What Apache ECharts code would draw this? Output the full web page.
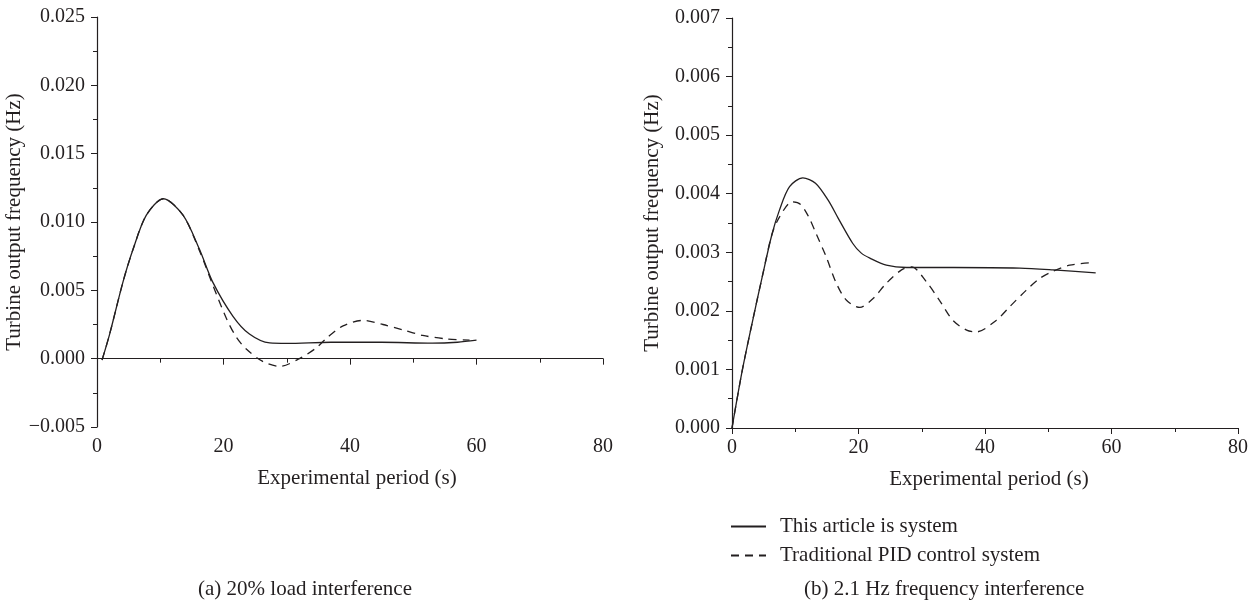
<!DOCTYPE html>
<html>
<head>
<meta charset="utf-8">
<script src="https://cdn.jsdelivr.net/npm/echarts@6/dist/echarts.min.js"></script>
<style>
  html, body { margin: 0; padding: 0; background: #fff; }
  #main { width: 1258px; height: 605px; }
</style>
</head>
<body>
<div id="main"></div>
<script>
// (a) 20% load interference
var leftSysT = [0.8, 2.0, 4.1, 5.7, 7.8, 10.5, 13.6, 16.2, 18.3, 21.5, 24.1, 27.3, 30, 37, 45, 53, 57, 60];
var leftSysV = [-0.0001, 0.0018, 0.0056, 0.0080, 0.0105, 0.0117, 0.0105, 0.0080, 0.0056, 0.0031, 0.0018, 0.00115, 0.00112, 0.0012, 0.0012, 0.00113, 0.0012, 0.00135];
var leftPidT = [0.8, 2.0, 4.1, 5.7, 7.8, 10.5, 13.6, 16.2, 18.3, 20.5, 22.0, 23.6, 26.2, 28.9, 32.0, 34.7, 36.3, 38.9, 42.0, 45.2, 48.4, 51.5, 55.2, 58.9];
var leftPidV = [-0.0001, 0.0018, 0.0056, 0.0080, 0.0105, 0.0117, 0.0105, 0.0079, 0.0054, 0.0029, 0.0016, 0.0007, -0.0002, -0.00056, 0.0, 0.0008, 0.0015, 0.0024, 0.0028, 0.0025, 0.0021, 0.0017, 0.00145, 0.00135];

// (b) 2.1 Hz frequency interference
var rightSysT = [0, 1.6, 3.2, 4.9, 6.3, 7.5, 9.1, 11.2, 13.2, 15.2, 16.8, 19.1, 20.4, 21.8, 24.4, 27.6, 35, 45.5, 50.8, 57.5];
var rightSysV = [0, 0.00097, 0.0018, 0.00264, 0.0033, 0.00372, 0.00412, 0.00427, 0.00418, 0.00389, 0.00358, 0.00315, 0.00299, 0.0029, 0.00278, 0.00274, 0.00274, 0.00273, 0.0027, 0.00265];
var rightPidT = [0, 1.6, 3.2, 4.9, 6.3, 7.5, 9.5, 10.8, 12.0, 13.3, 14.9, 16.5, 18.1, 20.2, 22.3, 24.4, 26.8, 28.4, 30.7, 32.8, 34.9, 37.1, 38.6, 41.8, 43.9, 46.5, 48.6, 50.8, 53.4, 56.7];
var rightPidV = [0, 0.00097, 0.0018, 0.00264, 0.0033, 0.0036, 0.00386, 0.00382, 0.00363, 0.00332, 0.00292, 0.00247, 0.00218, 0.00206, 0.00221, 0.00247, 0.0027, 0.00275, 0.0025, 0.00218, 0.00184, 0.00167, 0.00164, 0.00184, 0.00207, 0.00235, 0.00255, 0.00268, 0.00278, 0.00282];

var seriesNames = ['This article is system', 'Traditional PID control system'];
var xTicks = [0, 20, 40, 60, 80];
var captions = ['(a) 20% load interference', '(b) 2.1 Hz frequency interference'];

var ink = '#231f20';
var font = 'Liberation Serif';

function pairs(t, v) {
  var out = [];
  for (var i = 0; i < t.length; i++) out.push([t[i], v[i]]);
  return out;
}

function xAxis(idx, pad) {
  return {
    type: 'value', gridIndex: idx,
    min: xTicks[0], max: xTicks[xTicks.length - 1], interval: 20,
    name: 'Experimental period (s)', nameLocation: 'middle', nameGap: 41,
    nameTextStyle: { color: ink, fontFamily: font, fontSize: 21, padding: pad },
    axisLine: { lineStyle: { color: ink, width: 1.2 } },
    axisTick: { length: 6, lineStyle: { color: ink } },
    minorTick: { show: true, splitNumber: 2, length: 4, lineStyle: { color: ink } },
    splitLine: { show: false },
    axisLabel: { color: ink, fontFamily: font, fontSize: 20, margin: 10 }
  };
}

function yAxis(idx, min, max, step, gap) {
  return {
    type: 'value', gridIndex: idx,
    min: min, max: max, interval: step,
    name: 'Turbine output frequency (Hz)', nameLocation: 'middle', nameGap: gap,
    nameTextStyle: { color: ink, fontFamily: font, fontSize: 21 },
    axisLine: { show: true, lineStyle: { color: ink, width: 1.2 } },
    axisTick: { show: true, length: 6, lineStyle: { color: ink } },
    minorTick: { show: true, splitNumber: 2, length: 4, lineStyle: { color: ink } },
    splitLine: { show: false },
    axisLabel: {
      color: ink, fontFamily: font, fontSize: 20, margin: 12,
      formatter: function (val) {
        var s = Math.abs(val).toFixed(3);
        return val < -1e-9 ? '\u2212' + s : s;
      }
    }
  };
}

function line(name, idx, data, dashed) {
  return {
    name: name, type: 'line', xAxisIndex: idx, yAxisIndex: idx,
    data: data, smooth: 0.3, symbol: 'none',
    lineStyle: { color: ink, width: 1.3, type: dashed ? [8, 6] : 'solid' },
    itemStyle: { color: ink }
  };
}

var chart = echarts.init(document.getElementById('main'));
var option = {
  backgroundColor: '#fff',
  animation: false,
  grid: [
    { left: 97, right: 655, top: 17, bottom: 178 },
    { left: 732, right: 20, top: 18, bottom: 177 }
  ],
  xAxis: [xAxis(0, [0, 0, 0, 14]), xAxis(1, [0, 0, 0, 8])],
  yAxis: [yAxis(0, -0.005, 0.025, 0.005, 67), yAxis(1, 0, 0.007, 0.001, 69)],
  legend: {
    orient: 'vertical', left: 725, top: 511,
    itemWidth: 35, itemHeight: 14, itemGap: 8,
    data: seriesNames,
    itemStyle: { opacity: 0 },
    textStyle: { color: ink, fontFamily: font, fontSize: 21, lineHeight: 20, padding: [0, 0, 0, 9] }
  },
  graphic: [
    { type: 'text', left: 310 - 112, top: 579, style: { text: captions[0], fill: ink, font: '21px "Liberation Serif"' } },
    { type: 'text', left: 804, top: 579, style: { text: captions[1], fill: ink, font: '21px "Liberation Serif"' } }
  ],
  series: [
    line(seriesNames[0], 0, pairs(leftSysT, leftSysV), false),
    line(seriesNames[1], 0, pairs(leftPidT, leftPidV), true),
    line(seriesNames[0], 1, pairs(rightSysT, rightSysV), false),
    line(seriesNames[1], 1, pairs(rightPidT, rightPidV), true)
  ]
};
chart.setOption(option);
</script>
</body>
</html>
